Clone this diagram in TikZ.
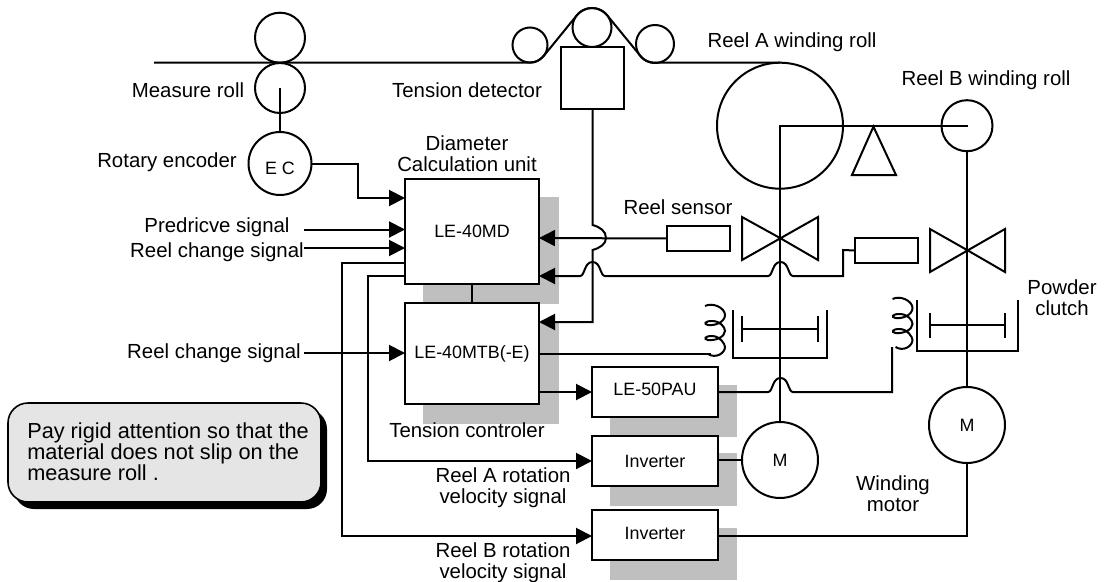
\documentclass[tikz,border=0pt]{standalone}
\usepackage{fontspec}
\setmainfont{Liberation Sans}
\usetikzlibrary{arrows.meta,shapes.geometric}
\definecolor{shade}{HTML}{BFBFBF}
\definecolor{notefill}{HTML}{E5E5E5}
\tikzset{
  wire/.style={line width=1.5pt,line join=miter},
  arrowwire/.style={wire,-{Triangle[length=12pt,width=12pt]}},
  unitbox/.style={draw,line width=1.5pt,fill=white,inner sep=0pt,outer sep=0pt,font=\fontsize{13.4}{16}\selectfont},
  rollnode/.style={circle,draw,line width=1.5pt,inner sep=0pt,outer sep=0pt,font=\fontsize{13.4}{16}\selectfont},
  label/.style={font=\fontsize{15.3}{15.6}\selectfont,inner sep=0pt,align=center},
  shadowrect/.style={fill=shade,draw=none},
  pics/coil/.style={code={
    \draw[wire] (0,0) .. controls (8,-4) and (20,2) .. (20,9) .. controls (20,16) and (10,20) .. (3,19)
      .. controls (-2,18) and (0,15) .. (7,15) .. controls (15,15) and (20,21) .. (20,25)
      .. controls (20,31) and (10,35) .. (3,34) .. controls (-2,33) and (0,30) .. (7,30)
      .. controls (15,30) and (20,38) .. (20,41) .. controls (20,47) and (11,53) .. (3,48);
  }}
}
\begin{document}
\begin{tikzpicture}[x=0.75pt,y=-0.75pt]
\useasboundingbox (0,0) rectangle (1104,582);

% shadows
\fill[shadowrect] (423,197) rectangle (559,304);
\fill[shadowrect] (423,323) rectangle (559,424);
\fill[shadowrect] (610,385) rectangle (737,437);
\fill[shadowrect] (610,453) rectangle (737,506);
\fill[shadowrect] (610,528) rectangle (737,580);

% note
\fill[rounded corners=15pt,black] (14,409) rectangle (327,509);
\node[draw,line width=1.2pt,fill=notefill,rounded corners=15pt,inner sep=0pt,outer sep=0pt,minimum width=234.75pt,minimum height=74.25pt] (note) at (164.5,452.5) {};
\node[anchor=west,align=left,inner sep=0pt,font=\fontsize{16.3}{15.75}\selectfont] (notetext) at (27,452) {Pay rigid attention so that the\\material does not slip on the\\measure roll .};

% rolls
\node[rollnode,minimum size=37.5pt] (top) at (280,37.7) {};
\node[rollnode,minimum size=37.5pt] (measure) at (280,88) {};
\node[rollnode,minimum size=47.25pt] (enc) at (280,163.5) {\smash{\raisebox{-8pt}{E C}}};
\node[rollnode,minimum size=26.25pt] (t1) at (530,45) {};
\node[rollnode,minimum size=29.25pt] (t2) at (592,27.5) {};
\node[rollnode,minimum size=28.5pt] (t3) at (655,44) {};
\node[rollnode,minimum size=94.5pt] (reelA) at (780,125.7) {};
\node[rollnode,minimum size=38.25pt] (reelB) at (967,125.7) {};
\node[rollnode,minimum size=57pt] (motorA) at (780,460) {M};
\node[rollnode,minimum size=57pt] (motorB) at (967,425) {M};

% boxes
\node[unitbox,minimum width=47.25pt,minimum height=46.5pt] (det) at (592.5,78) {};
\node[unitbox,minimum width=100.5pt,minimum height=78.75pt] (md) at (472,231.5) {LE-40MD};
\node[unitbox,minimum width=100.5pt,minimum height=75.75pt] (mtb) at (472,353.5) {LE-40MTB(-E)};
\node[unitbox,minimum width=94.5pt,minimum height=37.5pt] (pau) at (655,392) {\smash{\raisebox{-2.6pt}{LE-50PAU}}};
\node[unitbox,minimum width=94.5pt,minimum height=37.5pt] (inv1) at (655,461) {Inverter};
\node[unitbox,minimum width=94.5pt,minimum height=37.5pt] (inv2) at (655,535) {\smash{\raisebox{-3.3pt}{Inverter}}};
\node[unitbox,minimum width=47.25pt,minimum height=18.75pt] (s1) at (698.5,238.5) {};
\node[unitbox,minimum width=47.25pt,minimum height=18.75pt] (s2) at (886.5,250.5) {};

% named points
\coordinate (webstart) at (154,62.7);
\coordinate (axisA) at (780,125.7);
\coordinate (axisB) at (968,125.7);
\coordinate (m1hub) at (280,88);
\coordinate (encbend) at (358,163.5);
\coordinate (mdIn1) at (405,198);
\coordinate (mdIn2) at (405,229.5);
\coordinate (mdIn3) at (405,248);
\coordinate (srcP) at (304,229.5);
\coordinate (srcR) at (304,248);
\coordinate (srcR2) at (304,353);
\coordinate (mdOut1) at (405,263);
\coordinate (mdOut2) at (405,276);
\coordinate (inv1In) at (592,461);
\coordinate (inv2In) at (592,536);
\coordinate (mdS1) at (539,238);
\coordinate (mdS2) at (539,276);
\coordinate (mtbDet) at (539,322);
\coordinate (mtbIn) at (405,353);
\coordinate (mtbCoil) at (539,354);
\coordinate (mtbPau) at (539,392);
\coordinate (pauIn) at (592,392);
\coordinate (pauOut) at (718,392);
\coordinate (inv2Out) at (718,536);
\coordinate (coilAend) at (710,354);
\coordinate (coilBend) at (892,347);

% web
\draw[wire] (webstart) -- (530,62.7) .. controls (536,62.7) and (540,60) .. (544,55.6) -- (576.5,15.7)
  .. controls (580,11) and (586,8) .. (592,8) .. controls (598,8) and (604,11) .. (607.5,15.7)
  -- (640,55.4) .. controls (644,60.5) and (649,62.7) .. (655,62.7) -- (780,62.7)
  (reelA.north) -- (780,62.7);

% mechanical lines
\draw[wire] (m1hub) -- (enc.north);
\draw[wire] (axisB) -- (axisA) -- (motorA.north);
\draw[wire] (reelB.south) -- (motorB.north);
\draw[wire] (motorB.south) |- (inv2Out);
\draw[wire] (inv1.east |- motorA.west) -- (motorA.west);

% triangle
\node[draw=none,inner sep=0pt] (pivot) at (873,125.7) {};
\draw[wire,line join=miter] (pivot) -- (896,175) -- (852,175) -- cycle;

% valves
\draw[wire] (780,238) -- (742,217) -- (742,260) -- (818,217) -- (818,260) -- cycle;
\draw[wire] (967,250) -- (930,229) -- (930,272) -- (1005,229) -- (1005,272) -- cycle;

% clutches
\draw[wire] (733,310) -- (733,358) -- (827,358) -- (827,310);
\draw[wire] (742,316) -- (742,342) (818,316) -- (818,342) (742,329) -- (818,329);
\draw[wire] (917,300) -- (917,351) -- (1018,351) -- (1018,300);
\draw[wire] (930,313) -- (930,338) (1005,313) -- (1005,338) (930,325) -- (1005,325);

% coils
\pic at (705,306) {coil};
\pic at (892.5,299) {coil};

% signals
\draw[arrowwire] (enc.east) -- (encbend) |- (mdIn1);
\draw[arrowwire] (srcP) -- (mdIn2);
\draw[arrowwire] (srcR) -- (mdIn3);
\draw[arrowwire] (srcR2) -- (mtbIn);
\draw[wire] (md.south) -- (mtb.north);
\draw[arrowwire] (mdOut1) -| (342,536) -- (inv2In);
\draw[arrowwire] (mdOut2) -| (368,461) -- (inv1In);
\draw[arrowwire] (mtbPau) -- (pauIn);
\draw[arrowwire] (det.south) -- (592.5,225) .. controls (600,227) and (606,231) .. (606,238)
  .. controls (606,244) and (600,248) .. (592.5,250) -- (592.5,322) -- (mtbDet);
\draw[arrowwire] (s1.west) -- (mdS1);
\draw[arrowwire] (s2.west) -- (843,250) -- (843,276) -- (793,276)
  .. controls (788,276) and (789,262) .. (780.5,262) .. controls (772,262) and (773,276) .. (768,276)
  -- (605,276) .. controls (600,276) and (601,262) .. (592.5,262) .. controls (584,262) and (585,276) .. (580,276) -- (mdS2);
\draw[wire] (mtbCoil) -- (coilAend) -- (711,354);
\draw[wire] (pauOut) -- (768,392) .. controls (773,392) and (772,378) .. (780.5,378) .. controls (789,378) and (788,392) .. (793,392)
  -- (892,392) -- (coilBend);

% labels
\node[label] (l1) at (188,90) {Measure roll};
\node[label] (l2) at (467,90) {Tension detector};
\node[label] (l3) at (167,162) {Rotary encoder};
\node[label] (l4) at (467,154) {Diameter\\Calculation unit};
\node[label] (l5) at (217,227) {Predricve signal};
\node[label] (l6) at (217,252) {Reel change signal};
\node[label] (l7) at (214,353) {Reel change signal};
\node[label] (l8) at (467,430) {Tension controler};
\node[label] (l9) at (503,488) {Reel A rotation\\velocity signal};
\node[label] (l10) at (503,562.5) {Reel B rotation\\velocity signal};
\node[label] (l11) at (792,42) {Reel A winding roll};
\node[label] (l12) at (986,80) {Reel B winding roll};
\node[label] (l13) at (678,207) {Reel sensor};
\node[label] (l14) at (1062,298) {Powder\\clutch};
\node[label] (l15) at (893,494) {Winding\\motor};
\end{tikzpicture}
\end{document}
